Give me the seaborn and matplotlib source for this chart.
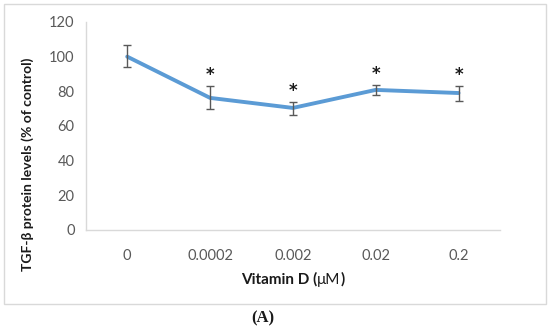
import numpy as np
import pandas as pd
import matplotlib
matplotlib.use('Agg')
import matplotlib.pyplot as plt
import seaborn as sns

# data
doses = ['0', '0.0002', '0.002', '0.02', '0.2']
tgf_level = [100, 76.2, 70.4, 80.8, 79.0]
err_upper = [106.5, 83.0, 74.0, 83.7, 83.2]
err_lower = [93.8, 69.5, 66.5, 77.8, 74.6]
significant = [False, True, True, True, True]

sns.set_style('white')
plt.rcParams['font.family'] = ['Lato', 'DejaVu Sans']

df = pd.DataFrame({'dose': doses, 'level': tgf_level})
df['pos'] = np.arange(len(doses))

fig = plt.figure(figsize=(5.5, 3.28), dpi=100)
ax = fig.add_axes([0.156, 0.299, 0.753, 0.634])

blue = '#5B9BD5'
sns.lineplot(data=df, x='pos', y='level', color=blue, linewidth=2.8, ax=ax)

yerr = np.array([np.array(tgf_level) - np.array(err_lower),
                 np.array(err_upper) - np.array(tgf_level)])
ax.errorbar(df['pos'], tgf_level, yerr=yerr, fmt='none', ecolor='#595959',
            elinewidth=1.0, capsize=3, capthick=1.0, zorder=3)

# significance stars just above the upper error bar
for i, (up, sig) in enumerate(zip(err_upper, significant)):
    if sig:
        ax.text(i, up + 1.0, '*', ha='center', va='bottom', fontsize=12,
                fontweight='bold', family='DejaVu Sans', color='#1a1a1a')

ax.set_xlim(-0.5, len(doses) - 0.5)
ax.set_ylim(0, 120)
ax.set_yticks(np.arange(0, 121, 20))
ax.set_xticks(df['pos'])
ax.set_xticklabels(doses)
ax.tick_params(axis='both', length=0, labelsize=10.5, labelcolor='#595959')
ax.tick_params(axis='x', pad=14)
ax.tick_params(axis='y', pad=8)

for side in ['top', 'right']:
    ax.spines[side].set_visible(False)
for side in ['left', 'bottom']:
    ax.spines[side].set_color('#d9d9d9')
    ax.spines[side].set_linewidth(1.0)

ax.set_xlabel('')
ax.set_ylabel('TGF-β protein levels (% of control)', fontsize=10,
              fontweight='bold', color='#1a1a1a')
ax.yaxis.set_label_coords(-0.125, 0.317)

# x label with regular µM inside bold text
t1 = fig.text(0.438, 0.135, 'Vitamin D (', fontsize=11, fontweight='bold',
              color='#1a1a1a', va='baseline')
t2 = ax.annotate('μM', xy=(1, 0), xycoords=t1, va='bottom', fontsize=11,
                 color='#1a1a1a')
ax.annotate(')', xy=(1, 0), xycoords=t2, va='bottom', fontsize=11,
            fontweight='bold', color='#1a1a1a')

# outer frame
fig.patches.append(plt.Rectangle((4 / 550, 1 - 304 / 328), 542 / 550, 300 / 328,
                                 transform=fig.transFigure, fill=False,
                                 edgecolor='#d9d9d9', linewidth=1.0))

fig.text(0.477, 0.03, '(A)', ha='center', va='center', fontsize=12,
         fontweight='bold', family='Liberation Serif', color='#1a1a1a')

fig.savefig('out.png', dpi=100)
